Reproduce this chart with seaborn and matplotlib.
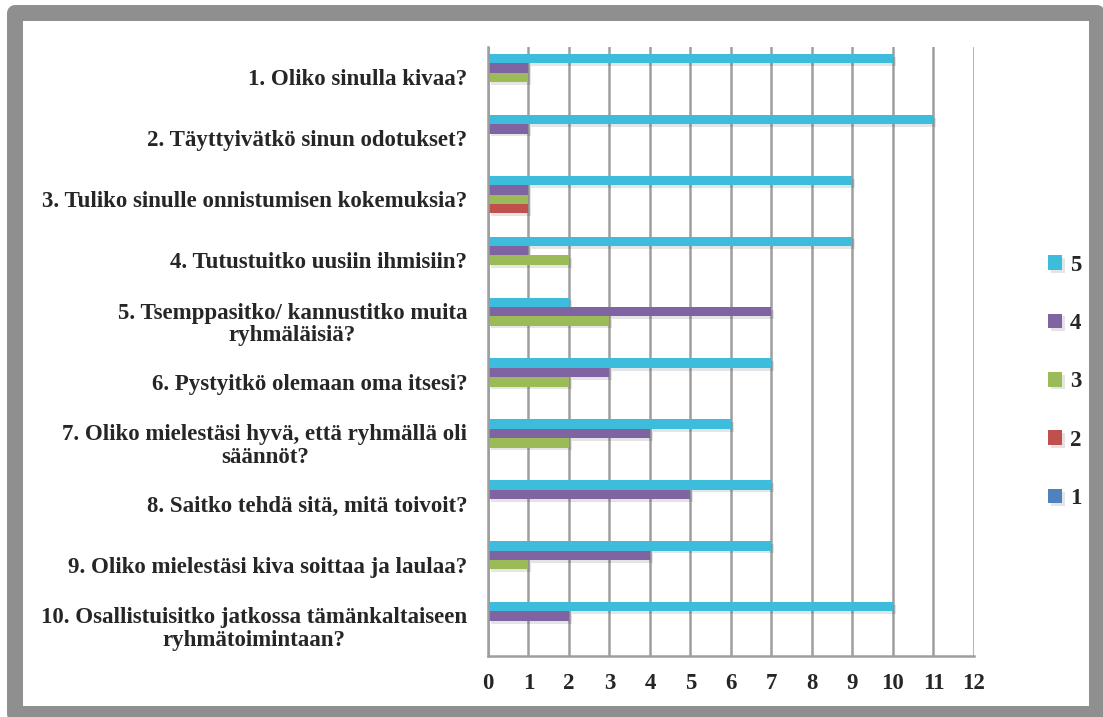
import pandas as pd
import matplotlib.pyplot as plt
import matplotlib.patheffects as pe
from matplotlib.patches import Rectangle
import seaborn as sns

# --- Data ---
questions = [
    '1. Oliko sinulla kivaa?',
    '2. Täyttyivätkö sinun odotukset?',
    '3. Tuliko sinulle onnistumisen kokemuksia?',
    '4. Tutustuitko uusiin ihmisiin?',
    '5. Tsemppasitko/ kannustitko muita\nryhmäläisiä?',
    '6. Pystyitkö olemaan oma itsesi?',
    '7. Oliko mielestäsi hyvä, että ryhmällä oli\nsäännöt?',
    '8. Saitko tehdä sitä, mitä toivoit?',
    '9. Oliko mielestäsi kiva soittaa ja laulaa?',
    '10. Osallistuisitko jatkossa tämänkaltaiseen\nryhmätoimintaan?',
]
score_5 = [10, 11, 9, 9, 2, 7, 6, 7, 7, 10]
score_4 = [1, 1, 1, 1, 7, 3, 4, 5, 4, 2]
score_3 = [1, 0, 1, 2, 3, 2, 2, 0, 1, 0]
score_2 = [0, 0, 1, 0, 0, 0, 0, 0, 0, 0]
score_1 = [0, 0, 0, 0, 0, 0, 0, 0, 0, 0]
series_names = ['5', '4', '3', '2', '1']
series_colors = ['#3DBCDB', '#8064A2', '#9BBB59', '#C0504D', '#4F81BD']

df = pd.DataFrame({'Kysymys': questions, '5': score_5, '4': score_4,
                   '3': score_3, '2': score_2, '1': score_1})
long_df = df.melt(id_vars='Kysymys', var_name='Arvio', value_name='Määrä')

# --- Plot ---
sns.set_style('white')
plt.rcParams['font.family'] = ['Liberation Serif', 'DejaVu Serif']
plt.rcParams['font.weight'] = 'bold'
fs = 16.5

fig = plt.figure(figsize=(11.03, 7.17), dpi=100)
ax = fig.add_axes([0.4424, 0.0851, 0.4406, 0.8494])

sns.barplot(data=long_df, y='Kysymys', x='Määrä', hue='Arvio',
            hue_order=series_names, palette=series_colors, order=questions,
            orient='h', width=0.77, saturation=1, errorbar=None, ax=ax)

for bar in ax.patches:
    bar.set_edgecolor('none')
    bar.set_path_effects([pe.SimplePatchShadow(offset=(2, -2), alpha=0.12),
                          pe.Normal()])

grid_col = '#9E9E9E'
ax.set_xlim(0, 12)
ax.set_ylim(len(questions) - 0.5, -0.5)
ax.set_xticks(range(13))
ax.xaxis.grid(True, color=grid_col, linewidth=1.8)
ax.set_axisbelow(True)
for side in ['top', 'right']:
    ax.spines[side].set_visible(False)
for side in ['left', 'bottom']:
    ax.spines[side].set_color(grid_col)
    ax.spines[side].set_linewidth(1.8)

ax.tick_params(axis='x', length=5, width=1.8, color=grid_col, labelsize=fs, pad=7)
ax.set_yticks([i - 0.5 for i in range(len(questions) + 1)], minor=True)
ax.tick_params(axis='y', which='minor', length=5, width=1.8, color=grid_col)
ax.tick_params(axis='y', which='major', length=0, labelsize=fs, pad=15)
for t in ax.get_yticklabels():
    t.set_multialignment('center')
    t.set_fontweight('bold')
    t.set_linespacing(1.1)
for t in ax.get_xticklabels():
    t.set_fontweight('bold')
ax.set_xlabel('')
ax.set_ylabel('')

ax.legend(loc='center left', bbox_to_anchor=(1.11, 0.45), frameon=False,
          handlelength=0.6, handleheight=0.6, handletextpad=0.35,
          labelspacing=1.63, prop={'weight': 'bold', 'size': fs})

# grey rounded frame around the whole chart
frame = Rectangle((15 / 1103, 3 / 717), 1082 / 1103, 701 / 717,
                  transform=fig.transFigure, fill=False, edgecolor='#8F8F8F',
                  linewidth=11.5, joinstyle='round', clip_on=False)
fig.patches.append(frame)

plt.savefig('out.png', dpi=100)
